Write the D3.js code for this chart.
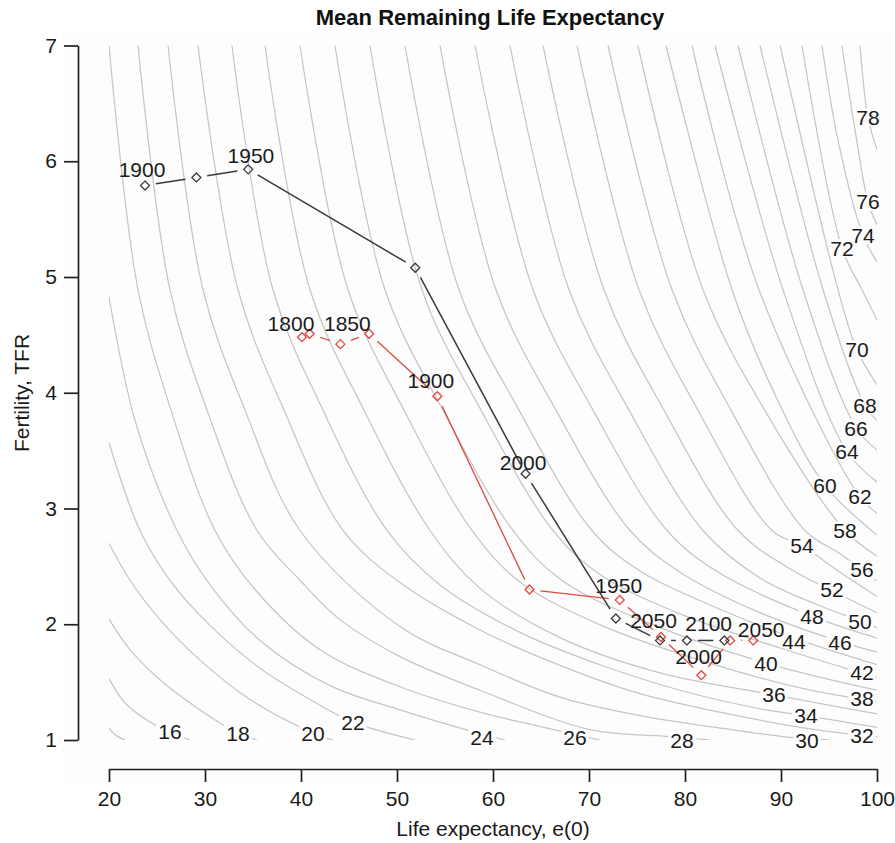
<!DOCTYPE html>
<html>
<head>
<meta charset="utf-8">
<script src="https://cdn.jsdelivr.net/npm/d3@7"></script>
<style>
  html, body { margin: 0; padding: 0; background: #fff; }
  svg { display: block; font-family: "Liberation Sans", Arial, Helvetica, sans-serif; }
</style>
</head>
<body>
<svg id="chart" width="895" height="843"></svg>
<script>
// ---- axis ticks ----
const xTicks = [20, 30, 40, 50, 60, 70, 80, 90, 100];
const yTicks = [1, 2, 3, 4, 5, 6, 7];

// ---- iso-lines of mean remaining life expectancy, as [e0, TFR] points ----
const contourLevels = [14, 16, 18, 20, 22, 24, 26, 28, 30, 32, 34, 36, 38, 40, 42, 44, 46,
                       48, 50, 52, 54, 56, 58, 60, 62, 64, 66, 68, 70, 72, 74, 76, 78];
const contourLines = [
  [[20,1.10],[20.73,1.04],[21.67,1.0]],
  [[20,1.53],[21.67,1.32],[24.27,1.155],[26.56,1.06],[28.44,1.0]],
  [[20,2.045],[22.19,1.78],[25.31,1.52],[29.48,1.26],[33.44,1.06],[35.42,1.0]],
  [[20,2.70],[22.19,2.38],[25.31,2.04],[29.48,1.69],[34.69,1.35],[41.25,1.06],[43.33,1.0]],
  [[20,3.57],[23.23,2.81],[26.35,2.38],[30.52,1.99],[35.73,1.62],[40.94,1.35],[45.42,1.155],[51.88,1.0]],
  [[20,4.83],[22.71,3.76],[27.08,2.81],[30.52,2.34],[35.73,1.86],[43.02,1.47],[50.31,1.26],[58.85,1.05],[61.25,1.0]],
  [[20,7],[23.02,4.89],[26.46,3.85],[31.04,2.81],[35.21,2.30],[41.98,1.78],[50.31,1.46],[58.65,1.24],[64.17,1.13],[71.15,1.0]],
  [[23.02,7],[26.35,4.89],[30.21,3.85],[35.42,2.81],[39.9,2.38],[44.06,2.04],[50.31,1.72],[58.65,1.43],[70.1,1.09],[78.44,1.03],[82.6,1.0]],
  [[26.15,7],[29.79,4.89],[34.17,3.85],[39.9,2.81],[50.31,1.98],[58.65,1.65],[66.98,1.37],[75.31,1.21],[83.96,1.10],[91.25,1.02],[95.1,1.0]],
  [[29.27,7],[33.44,4.89],[38.23,3.85],[44.38,2.81],[50.31,2.36],[58.65,1.95],[66.98,1.645],[75.31,1.40],[83.65,1.24],[91.98,1.11],[98.44,1.04],[100,1.03]],
  [[32.81,7],[37.08,4.89],[42.29,3.85],[48.96,2.81],[54.48,2.34],[62.81,1.93],[71.15,1.65],[79.48,1.43],[87.81,1.27],[92.6,1.21],[100,1.11]],
  [[36.25,7],[40.94,4.89],[46.56,3.85],[53.44,2.81],[58.65,2.31],[66.98,1.885],[77.4,1.58],[89.27,1.39],[100,1.225]],
  [[39.9,7],[44.9,4.89],[50.73,3.85],[57.81,2.81],[62.81,2.365],[71.15,1.995],[81.56,1.69],[91.98,1.45],[100,1.33]],
  [[43.54,7],[48.75,4.89],[54.79,3.85],[62.08,2.81],[66.98,2.39],[75.31,2.04],[88.44,1.665],[100,1.43]],
  [[47.19,7],[52.6,4.89],[58.75,3.85],[66.25,2.81],[71.15,2.43],[79.48,2.09],[89.9,1.795],[100,1.54]],
  [[50.83,7],[56.46,4.89],[62.71,3.85],[70.31,2.81],[75.31,2.46],[83.65,2.13],[91.35,1.88],[100,1.65]],
  [[54.48,7],[60.31,4.89],[66.56,3.85],[74.27,2.81],[79.48,2.45],[87.81,2.10],[96.15,1.85],[100,1.76]],
  [[58.13,7],[64.17,4.89],[70.42,3.85],[78.13,2.81],[83.65,2.44],[93.23,2.07],[100,1.88]],
  [[61.77,7],[67.92,4.89],[74.17,3.85],[81.88,2.81],[87.81,2.40],[94.06,2.16],[98.23,2.03],[100,1.97]],
  [[65.21,7],[71.56,4.89],[77.81,3.85],[85.52,2.81],[90.94,2.48],[95.31,2.29],[100,2.10]],
  [[68.75,7],[75.21,4.89],[81.35,3.85],[89.06,2.81],[92.19,2.68],[96.15,2.45],[100,2.24]],
  [[71.98,7],[78.65,4.89],[84.79,3.85],[92.5,2.81],[96.15,2.61],[98.44,2.47],[100,2.375]],
  [[75.1,7],[81.88,4.89],[88.3,3.85],[96.67,2.81],[100,2.59]],
  [[78.02,7],[84.9,4.89],[89.06,4.04],[94.58,3.20],[100,2.77]],
  [[80.73,7],[87.71,4.89],[98.23,3.10],[100,2.96]],
  [[83.13,7],[90.21,4.89],[96.88,3.49],[100,3.23]],
  [[85.52,7],[92.29,4.89],[97.81,3.70],[100,3.505]],
  [[87.81,7],[94.38,4.89],[98.75,3.89],[100,3.76]],
  [[89.9,7],[95.94,4.89],[97.92,4.37],[100,4.07]],
  [[92.19,7],[96.35,5.25],[98.44,4.89],[100,4.63]],
  [[94.27,7],[95.94,6.18],[98.54,5.36],[100,5.13]],
  [[96.35,7],[97.71,6.27],[99.06,5.65],[100,5.45]],
  [[98.23,7],[99.06,6.38],[100,6.10]]
];
// where each level's number sits on its line (null = unlabelled)
const contourLabelAt = [
  null, [26.35,1.07], [33.44,1.06], [41.25,1.06], [45.42,1.155], [58.85,1.02], [68.54,1.02],
  [79.69,1.0], [92.71,1.0], [98.44,1.04], [92.6,1.21], [89.27,1.39], [98.44,1.36], [88.44,1.665],
  [98.44,1.58], [91.35,1.855], [96.15,1.84], [93.23,2.07], [98.23,2.02], [95.31,2.30], [92.19,2.68],
  [98.44,2.47], [96.67,2.81], [94.58,3.20], [98.23,3.10], [96.88,3.49], [97.81,3.695], [98.75,3.89],
  [97.92,4.37], [96.35,5.25], [98.54,5.36], [99.06,5.65], [99.06,6.38]
];

// ---- trajectories ----
const yearsDark = [1900, 1925, 1950, 1975, 2000, 2025, 2050, 2075, 2100];
const e0Dark    = [23.75, 29.1, 34.5, 51.9, 63.4, 72.8, 77.4, 80.2, 84.1];
const tfrDark   = [5.79, 5.86, 5.93, 5.08, 3.30, 2.05, 1.86, 1.86, 1.86];

const yearsRed = [1800, 1825, 1850, 1875, 1900, 1925, 1950, 1975, 2000, 2025, 2050];
const e0Red    = [40.1, 40.9, 44.1, 47.1, 54.2, 63.8, 73.2, 77.5, 81.7, 84.7, 87.1];
const tfrRed   = [4.48, 4.51, 4.42, 4.51, 3.97, 2.30, 2.21, 1.89, 1.56, 1.86, 1.86];

// ---- drawing ----
const svg = d3.select("#chart");
const FONT = 21;
const x = d3.scaleLinear().domain([20, 100]).range([109, 877]);
const y = d3.scaleLinear().domain([1, 7]).range([740, 45.5]);

svg.append("rect").attr("x", 63).attr("y", 32).attr("width", 832).attr("height", 751)
   .attr("fill", "#fdfdfd");

const defs = svg.append("defs");
defs.append("clipPath").attr("id", "plotClip")
  .append("rect").attr("x", x(20)).attr("y", y(7))
  .attr("width", x(100) - x(20)).attr("height", y(1) - y(7));

// contour labels first, so their sizes can cut gaps in their own lines
const labelG = svg.append("g").attr("font-size", FONT).attr("fill", "#1a1a1a");
const gaps = contourLevels.map((lv, i) => {
  const at = contourLabelAt[i];
  if (!at) return null;
  const t = labelG.append("text")
    .attr("x", x(at[0])).attr("y", y(at[1]))
    .attr("text-anchor", "middle").attr("dy", "0.36em")
    .text(lv);
  const w = t.node().getComputedTextLength();
  return { cx: x(at[0]), cy: y(at[1]), w: w + 4, h: 18 };
});

const lineGen = d3.line()
  .x(d => x(d[0])).y(d => y(d[1]))
  .curve(d3.curveCatmullRom.alpha(0.5));

const contourG = svg.insert("g", () => labelG.node())
  .attr("clip-path", "url(#plotClip)")
  .attr("fill", "none").attr("stroke", "#c6c6c6").attr("stroke-width", 1.25);

contourLevels.forEach((lv, i) => {
  const p = contourG.append("path").attr("d", lineGen(contourLines[i]));
  const g = gaps[i];
  if (g) {
    const m = defs.append("mask").attr("id", "gap" + lv)
      .attr("maskUnits", "userSpaceOnUse")
      .attr("x", 0).attr("y", 0).attr("width", 895).attr("height", 843);
    m.append("rect").attr("width", 895).attr("height", 843).attr("fill", "#fff");
    m.append("rect").attr("x", g.cx - g.w / 2).attr("y", g.cy - g.h / 2)
      .attr("width", g.w).attr("height", g.h).attr("fill", "#000");
    p.attr("mask", "url(#gap" + lv + ")");
  }
});

// trajectory: line pieces stop short of each marker, then open diamonds
function drawTrajectory(years, e0s, tfrs, color, width, labelShift) {
  const g = svg.append("g");
  const pts = years.map((yr, i) => ({ yr, px: x(e0s[i]), py: y(tfrs[i]) }));
  const gap = 11;
  for (let i = 0; i < pts.length - 1; i++) {
    const a = pts[i], b = pts[i + 1];
    const dx = b.px - a.px, dy = b.py - a.py;
    const len = Math.hypot(dx, dy);
    if (len <= 2 * gap + 1) continue;
    const ux = dx / len, uy = dy / len;
    g.append("line")
      .attr("x1", a.px + ux * gap).attr("y1", a.py + uy * gap)
      .attr("x2", b.px - ux * gap).attr("y2", b.py - uy * gap)
      .attr("stroke", color).attr("stroke-width", width);
  }
  const r = 4.5;
  g.selectAll("path.pt").data(pts).join("path")
    .attr("class", "pt")
    .attr("d", d => `M${d.px},${d.py - r}L${d.px + r},${d.py}L${d.px},${d.py + r}L${d.px - r},${d.py}Z`)
    .attr("fill", "none").attr("stroke", color).attr("stroke-width", 1.3);
  pts.filter(d => d.yr % 50 === 0).forEach(d => {
    const s = labelShift[d.yr] || [0, 0];
    g.append("text")
      .attr("x", d.px + s[0]).attr("y", d.py - 16 + s[1])
      .attr("dy", "0.36em").attr("text-anchor", "middle")
      .attr("font-size", FONT).attr("fill", "#1a1a1a")
      .text(d.yr);
  });
}

drawTrajectory(yearsRed, e0Red, tfrRed, "#dc4a40", 1.3,
  { 1800: [-11, 2], 1850: [7, -5], 1900: [-6.5, 0.5], 1950: [-1, 1.5], 2000: [-2.7, -2.5], 2050: [8, 5] });
drawTrajectory(yearsDark, e0Dark, tfrDark, "#3a3a3a", 1.5,
  { 1900: [-3, 0], 1950: [2.7, 2], 2000: [-2.5, 4.5], 2050: [-6.5, -4], 2100: [-15.7, -1.5] });

// axes
const yAxis = d3.axisLeft(y).tickValues(yTicks).tickSize(14).tickSizeOuter(0).tickPadding(7)
  .tickFormat(d3.format("d"));
const xAxis = d3.axisBottom(x).tickValues(xTicks).tickSize(13).tickSizeOuter(0).tickPadding(9)
  .tickFormat(d3.format("d"));

const ya = svg.append("g").attr("transform", "translate(78,0)").call(yAxis);
const xa = svg.append("g").attr("transform", "translate(0,769)").call(xAxis);
[ya, xa].forEach(a => {
  a.selectAll("path.domain").attr("stroke", "#222").attr("stroke-width", 1.7);
  a.selectAll(".tick line").attr("stroke", "#222").attr("stroke-width", 1.7);
  a.selectAll(".tick text").attr("font-size", FONT).attr("fill", "#1a1a1a")
    .attr("font-family", "Liberation Sans, Arial, Helvetica, sans-serif");
});

svg.append("text").attr("x", 490).attr("y", 25)
  .attr("text-anchor", "middle").attr("font-size", 22).attr("font-weight", "bold")
  .attr("fill", "#111").text("Mean Remaining Life Expectancy");

svg.append("text").attr("x", 493).attr("y", 836)
  .attr("text-anchor", "middle").attr("font-size", FONT).attr("fill", "#1a1a1a")
  .text("Life expectancy, e(0)");

svg.append("text").attr("transform", "translate(29,393) rotate(-90)")
  .attr("text-anchor", "middle").attr("font-size", FONT).attr("fill", "#1a1a1a")
  .text("Fertility, TFR");
</script>
</body>
</html>
